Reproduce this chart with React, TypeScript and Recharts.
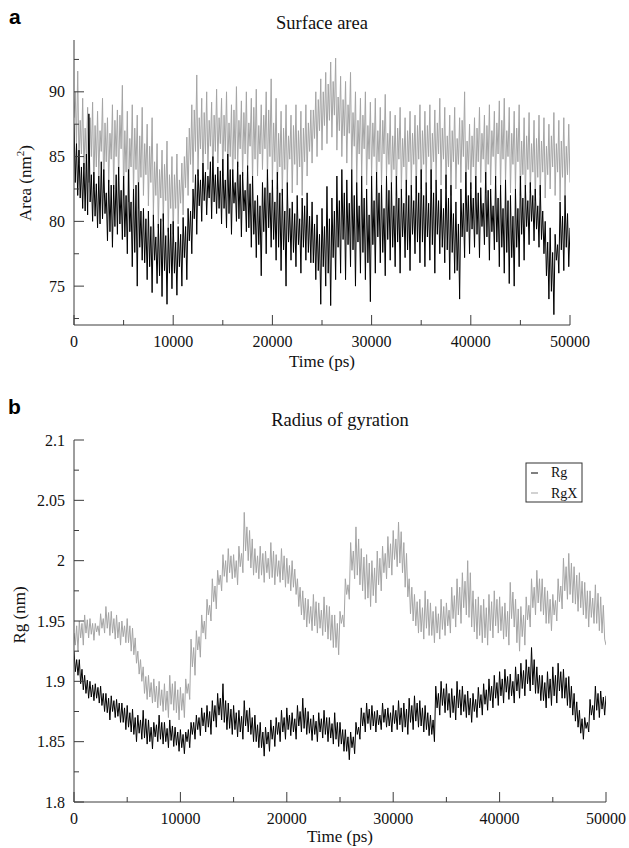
import React from "react";
import { LineChart, Line, XAxis, YAxis } from "recharts";

// time grid, one frame every 125 ps
const STEP = 125;
const TIME = Array.from({ length: 401 }, (_, i) => i * STEP);

const X_TICKS = [0, 5000, 10000, 15000, 20000, 25000, 30000, 35000, 40000, 45000, 50000];
const AREA_TICKS = [72.5, 75, 77.5, 80, 82.5, 85, 87.5, 90, 92.5];
const RG_TICKS = [1.8, 1.825, 1.85, 1.875, 1.9, 1.925, 1.95, 1.975, 2, 2.025, 2.05, 2.075, 2.1];

// surface area (nm^2), black trace — one row per 5000 ps
const AREA_BLACK = [
  87.5, 83.0, 86.0, 82.0, 85.5, 81.8, 84.2, 81.0, 84.5, 80.8, 85.2, 80.5, 88.3, 81.5, 83.6, 80.0, 83.8, 80.4, 82.9, 79.5, 83.5, 79.8, 84.6, 80.2, 84.0, 80.6, 82.2, 78.5, 83.2, 79.2, 82.8, 78.0, 82.8, 79.6, 83.6, 79.0, 84.2, 79.8, 82.4, 78.6,
  83.5, 78.8, 82.0, 77.5, 84.0, 79.2, 81.5, 76.5, 82.5, 77.6, 82.8, 75.0, 83.0, 78.0, 80.8, 77.0, 81.0, 76.8, 80.2, 75.5, 80.8, 76.5, 79.6, 74.5, 80.5, 77.0, 78.8, 75.2, 79.8, 75.8, 80.2, 74.2, 80.6, 76.2, 78.9, 73.6, 79.5, 76.0, 79.8, 74.8,
  80.0, 76.0, 78.4, 74.3, 79.6, 76.5, 79.0, 75.0, 80.3, 77.2, 79.6, 75.5, 81.0, 78.5, 80.8, 77.5, 82.5, 80.2, 83.6, 79.0, 84.0, 81.2, 83.2, 80.0, 84.5, 81.6, 83.8, 80.5, 83.5, 81.8, 84.6, 80.2, 85.0, 81.5, 83.6, 80.6, 84.2, 81.0, 83.9, 79.8,
  84.8, 81.0, 83.2, 79.5, 85.2, 80.6, 84.0, 79.0, 84.0, 81.4, 83.0, 80.0, 84.6, 80.2, 83.6, 78.8, 83.8, 80.8, 82.4, 79.2, 84.3, 79.5, 82.9, 78.0, 83.5, 79.0, 81.6, 77.2, 82.0, 78.2, 81.2, 75.8, 83.0, 79.2, 82.6, 77.5, 84.0, 79.5, 82.2, 78.0,
  83.2, 78.6, 81.5, 77.0, 83.8, 78.0, 82.2, 76.2, 82.5, 77.8, 80.8, 75.0, 83.0, 78.4, 81.0, 77.0, 81.5, 77.6, 80.6, 76.5, 82.0, 78.2, 80.2, 76.0, 81.8, 78.0, 81.2, 77.0, 82.2, 77.6, 80.4, 76.8, 81.5, 76.8, 79.8, 75.5, 80.5, 76.2, 79.0, 73.6,
  81.0, 76.5, 79.6, 75.0, 82.7, 76.0, 80.2, 73.5, 81.8, 77.2, 80.8, 75.5, 83.5, 78.0, 81.6, 76.0, 84.0, 78.6, 82.2, 75.5, 83.2, 78.2, 81.4, 76.5, 84.0, 77.8, 82.0, 75.0, 83.0, 78.4, 81.2, 76.0, 83.5, 77.6, 81.8, 75.5, 82.5, 76.8, 80.5, 73.8,
  83.5, 78.2, 81.6, 76.0, 83.8, 78.8, 82.2, 76.8, 82.8, 77.6, 81.0, 75.8, 83.5, 78.6, 82.4, 77.0, 83.0, 78.0, 81.2, 76.5, 83.5, 78.4, 81.8, 76.0, 82.5, 78.8, 81.4, 77.2, 83.2, 77.8, 82.0, 76.2, 82.8, 79.0, 81.6, 77.5, 83.5, 78.4, 82.2, 76.8,
  84.0, 78.4, 82.0, 76.5, 83.0, 78.8, 81.4, 77.0, 84.0, 78.2, 82.2, 76.0, 83.2, 79.0, 81.6, 77.5, 82.5, 78.0, 81.0, 76.8, 83.6, 77.8, 81.8, 75.5, 82.8, 77.6, 80.6, 76.0, 81.5, 76.2, 79.8, 74.0, 82.5, 78.8, 81.4, 77.2, 83.8, 79.2, 82.0, 77.5,
  83.0, 79.4, 81.8, 78.0, 83.5, 79.0, 82.2, 77.2, 82.6, 79.6, 81.4, 78.2, 83.8, 78.8, 82.4, 77.0, 82.5, 79.2, 81.2, 77.8, 83.5, 78.4, 81.8, 76.5, 82.8, 78.0, 81.0, 76.0, 83.2, 77.6, 81.6, 75.2, 82.0, 77.2, 80.4, 75.0, 82.5, 78.0, 81.0, 76.5,
  83.5, 79.0, 81.8, 77.0, 82.8, 79.6, 81.6, 78.2, 83.0, 80.0, 82.0, 78.5, 82.5, 79.4, 81.2, 78.0, 82.8, 78.6, 80.8, 77.5, 80.0, 75.8, 78.4, 74.0, 79.5, 74.6, 77.6, 72.8, 79.0, 77.0, 78.2, 76.0, 81.5, 77.8, 80.4, 76.2, 82.0, 78.0, 80.6, 76.5,
  79.5,
];

// surface area (nm^2), grey trace
const AREA_GRAY = [
  88.0, 90.0, 86.0, 91.6, 84.5, 87.8, 85.2, 89.5, 84.0, 87.2, 84.8, 88.8, 83.0, 88.0, 85.0, 89.2, 82.5, 87.4, 84.2, 88.5, 83.5, 87.0, 85.4, 89.5, 82.2, 87.6, 84.6, 88.0, 83.0, 86.8, 84.8, 89.0, 82.5, 87.8, 85.0, 88.6, 83.2, 88.2, 85.6, 90.5,
  82.0, 87.0, 83.8, 88.5, 81.5, 86.4, 84.2, 89.0, 82.3, 87.2, 84.0, 88.2, 81.0, 86.6, 83.4, 88.8, 82.0, 86.0, 83.6, 87.5, 81.2, 85.8, 83.0, 88.0, 80.5, 84.6, 82.0, 86.0, 79.5, 84.0, 81.8, 85.5, 80.0, 84.4, 81.6, 86.2, 79.2, 83.6, 81.0, 85.0,
  79.0, 83.6, 81.0, 85.2, 79.8, 83.2, 81.4, 84.5, 80.5, 85.0, 82.6, 86.5, 82.0, 87.2, 84.4, 89.0, 83.0, 88.6, 85.4, 91.3, 83.5, 88.0, 85.6, 89.5, 83.0, 88.4, 85.2, 90.0, 84.0, 87.8, 85.8, 89.2, 83.2, 88.2, 85.4, 90.2, 84.5, 88.0, 86.0, 89.5,
  83.5, 88.2, 85.4, 90.0, 84.0, 87.6, 85.0, 89.0, 83.0, 88.6, 84.8, 90.4, 84.2, 87.8, 85.6, 89.3, 83.5, 88.4, 85.2, 90.0, 84.0, 87.6, 85.8, 89.5, 83.0, 88.8, 84.8, 90.2, 83.5, 87.4, 85.2, 89.0, 84.0, 88.2, 85.6, 90.0, 83.2, 88.6, 85.0, 91.0,
  83.0, 87.6, 84.6, 89.5, 82.5, 86.8, 84.2, 88.5, 82.0, 87.2, 84.0, 89.0, 83.0, 86.6, 84.8, 88.2, 82.2, 87.4, 84.4, 89.0, 82.8, 87.0, 84.2, 88.5, 82.0, 87.2, 84.6, 89.0, 83.5, 87.6, 85.4, 88.6, 84.5, 88.6, 86.4, 90.0, 85.0, 89.4, 87.0, 91.0,
  85.5, 90.0, 87.4, 91.5, 86.0, 90.6, 87.8, 92.3, 86.5, 90.8, 88.2, 92.6, 85.5, 89.6, 87.0, 91.2, 85.0, 89.4, 86.6, 90.8, 84.5, 89.0, 86.8, 91.5, 84.0, 88.4, 85.8, 90.0, 83.0, 87.8, 85.2, 89.5, 83.5, 88.2, 85.6, 90.0, 82.8, 87.4, 84.8, 89.2,
  83.5, 87.6, 85.0, 89.5, 83.0, 87.0, 84.6, 88.8, 82.7, 87.8, 85.2, 89.8, 83.5, 86.8, 84.4, 88.5, 82.5, 86.6, 84.0, 88.2, 82.0, 87.2, 84.8, 88.8, 82.5, 86.4, 84.2, 88.0, 82.0, 87.0, 84.6, 88.5, 82.8, 86.8, 84.4, 88.2, 82.2, 87.4, 84.8, 89.0,
  82.5, 87.0, 84.4, 88.5, 83.0, 87.4, 85.0, 89.0, 82.5, 86.8, 84.6, 88.6, 83.2, 87.6, 85.2, 89.5, 82.8, 87.2, 84.8, 88.8, 82.5, 86.6, 84.2, 88.2, 82.0, 87.0, 84.6, 88.8, 82.5, 86.4, 84.4, 88.0, 83.0, 87.8, 85.0, 90.0, 82.0, 86.2, 84.0, 87.5,
  82.5, 86.6, 84.2, 88.0, 82.0, 87.2, 84.6, 88.8, 83.0, 86.8, 84.8, 88.2, 82.2, 87.4, 84.4, 89.0, 82.8, 87.0, 85.0, 88.5, 83.0, 87.6, 85.2, 89.3, 82.5, 87.8, 84.8, 89.5, 83.0, 87.0, 85.0, 88.8, 82.2, 86.8, 84.4, 88.5, 82.5, 87.2, 84.6, 89.0,
  82.0, 86.2, 83.6, 88.0, 81.8, 86.6, 84.0, 88.4, 82.2, 86.0, 83.8, 87.8, 81.6, 86.4, 83.4, 88.2, 82.0, 86.2, 83.8, 88.0, 81.8, 85.8, 83.6, 87.5, 82.5, 86.6, 84.2, 88.4, 82.0, 86.0, 83.8, 87.8, 81.6, 86.2, 83.4, 88.0, 82.0, 85.8, 83.6, 87.5,
  83.0,
];

// radius of gyration (nm), Rg
const RG = [
  1.925, 1.908, 1.918, 1.905, 1.918, 1.898, 1.910, 1.893, 1.905, 1.890, 1.901, 1.886, 1.900, 1.887, 1.897, 1.884, 1.898, 1.886, 1.895, 1.882, 1.896, 1.880, 1.890, 1.875, 1.890, 1.874, 1.886, 1.868, 1.888, 1.875, 1.884, 1.870, 1.885, 1.871, 1.882, 1.866, 1.882, 1.866, 1.878, 1.860,
  1.880, 1.862, 1.874, 1.858, 1.877, 1.856, 1.870, 1.850, 1.872, 1.857, 1.868, 1.852, 1.876, 1.853, 1.869, 1.848, 1.868, 1.850, 1.862, 1.844, 1.866, 1.854, 1.864, 1.850, 1.872, 1.852, 1.866, 1.848, 1.866, 1.850, 1.861, 1.845, 1.868, 1.851, 1.863, 1.846, 1.862, 1.847, 1.858, 1.842,
  1.860, 1.845, 1.856, 1.840, 1.858, 1.850, 1.860, 1.845, 1.866, 1.856, 1.866, 1.852, 1.872, 1.860, 1.870, 1.855, 1.878, 1.863, 1.874, 1.858, 1.880, 1.862, 1.875, 1.856, 1.884, 1.867, 1.880, 1.862, 1.890, 1.872, 1.886, 1.868, 1.898, 1.866, 1.884, 1.860, 1.882, 1.861, 1.877, 1.856,
  1.880, 1.860, 1.874, 1.854, 1.876, 1.858, 1.871, 1.852, 1.884, 1.863, 1.876, 1.858, 1.878, 1.856, 1.870, 1.850, 1.872, 1.850, 1.864, 1.845, 1.866, 1.845, 1.858, 1.838, 1.862, 1.848, 1.858, 1.842, 1.868, 1.852, 1.863, 1.846, 1.870, 1.856, 1.866, 1.850, 1.876, 1.858, 1.870, 1.852,
  1.878, 1.860, 1.872, 1.855, 1.874, 1.858, 1.869, 1.852, 1.880, 1.863, 1.875, 1.858, 1.886, 1.861, 1.878, 1.856, 1.875, 1.857, 1.869, 1.851, 1.872, 1.856, 1.867, 1.850, 1.874, 1.858, 1.869, 1.853, 1.876, 1.856, 1.870, 1.850, 1.870, 1.853, 1.865, 1.848, 1.874, 1.852, 1.866, 1.846,
  1.866, 1.848, 1.860, 1.842, 1.860, 1.842, 1.854, 1.835, 1.858, 1.845, 1.854, 1.840, 1.866, 1.856, 1.862, 1.852, 1.878, 1.863, 1.874, 1.858, 1.882, 1.865, 1.877, 1.860, 1.880, 1.863, 1.875, 1.858, 1.876, 1.864, 1.872, 1.860, 1.882, 1.866, 1.877, 1.862, 1.878, 1.863, 1.874, 1.858,
  1.880, 1.865, 1.876, 1.860, 1.884, 1.864, 1.878, 1.858, 1.882, 1.862, 1.877, 1.856, 1.886, 1.866, 1.880, 1.860, 1.888, 1.867, 1.882, 1.862, 1.884, 1.863, 1.878, 1.858, 1.880, 1.860, 1.874, 1.855, 1.872, 1.856, 1.868, 1.850, 1.896, 1.878, 1.890, 1.872, 1.900, 1.880, 1.894, 1.874,
  1.898, 1.876, 1.890, 1.870, 1.894, 1.874, 1.888, 1.868, 1.900, 1.878, 1.893, 1.872, 1.896, 1.875, 1.889, 1.870, 1.892, 1.872, 1.886, 1.866, 1.890, 1.875, 1.885, 1.870, 1.895, 1.878, 1.889, 1.872, 1.898, 1.881, 1.893, 1.876, 1.902, 1.884, 1.896, 1.878, 1.905, 1.886, 1.899, 1.880,
  1.908, 1.888, 1.902, 1.882, 1.910, 1.891, 1.904, 1.885, 1.906, 1.888, 1.900, 1.882, 1.912, 1.892, 1.906, 1.886, 1.915, 1.894, 1.909, 1.888, 1.918, 1.898, 1.912, 1.892, 1.928, 1.897, 1.918, 1.890, 1.912, 1.890, 1.905, 1.884, 1.905, 1.884, 1.899, 1.878, 1.908, 1.886, 1.902, 1.880,
  1.912, 1.888, 1.905, 1.882, 1.915, 1.892, 1.908, 1.886, 1.910, 1.886, 1.903, 1.880, 1.904, 1.878, 1.896, 1.872, 1.890, 1.867, 1.883, 1.862, 1.876, 1.857, 1.869, 1.852, 1.870, 1.861, 1.866, 1.858, 1.885, 1.872, 1.880, 1.868, 1.896, 1.876, 1.890, 1.870, 1.892, 1.877, 1.887, 1.872,
  1.888,
];

// radius of gyration (nm), RgX
const RGX = [
  1.940, 1.930, 1.946, 1.925, 1.950, 1.936, 1.948, 1.930, 1.955, 1.940, 1.951, 1.936, 1.952, 1.939, 1.948, 1.934, 1.948, 1.941, 1.946, 1.938, 1.956, 1.944, 1.952, 1.940, 1.962, 1.944, 1.957, 1.938, 1.958, 1.940, 1.952, 1.935, 1.955, 1.936, 1.949, 1.930, 1.950, 1.937, 1.946, 1.932,
  1.952, 1.932, 1.946, 1.925, 1.944, 1.922, 1.936, 1.915, 1.925, 1.906, 1.918, 1.900, 1.912, 1.890, 1.904, 1.885, 1.905, 1.887, 1.899, 1.882, 1.902, 1.883, 1.896, 1.878, 1.900, 1.880, 1.893, 1.875, 1.898, 1.876, 1.892, 1.870, 1.905, 1.881, 1.898, 1.876, 1.900, 1.874, 1.893, 1.868,
  1.895, 1.876, 1.890, 1.870, 1.902, 1.890, 1.898, 1.885, 1.935, 1.912, 1.928, 1.905, 1.942, 1.926, 1.937, 1.920, 1.955, 1.940, 1.950, 1.935, 1.968, 1.955, 1.963, 1.950, 1.985, 1.966, 1.979, 1.960, 1.992, 1.980, 1.988, 1.975, 2.005, 1.987, 2.000, 1.982, 2.010, 1.990, 2.004, 1.985,
  2.005, 1.986, 2.000, 1.980, 2.012, 1.995, 2.006, 1.990, 2.040, 2.008, 2.028, 2.000, 2.025, 1.994, 2.018, 1.988, 2.010, 1.990, 2.004, 1.985, 2.012, 1.988, 2.006, 1.982, 2.008, 1.990, 2.002, 1.985, 2.015, 1.986, 2.008, 1.980, 2.005, 1.987, 2.000, 1.982, 2.010, 1.984, 2.004, 1.978,
  2.002, 1.981, 1.996, 1.975, 2.000, 1.978, 1.993, 1.972, 1.985, 1.962, 1.978, 1.955, 1.975, 1.951, 1.969, 1.945, 1.968, 1.948, 1.962, 1.942, 1.972, 1.946, 1.966, 1.940, 1.965, 1.944, 1.959, 1.938, 1.970, 1.941, 1.963, 1.935, 1.962, 1.934, 1.955, 1.928, 1.955, 1.928, 1.948, 1.922,
  1.958, 1.948, 1.955, 1.945, 1.985, 1.972, 1.980, 1.968, 2.015, 1.992, 2.008, 1.985, 2.028, 1.988, 2.018, 1.980, 2.010, 1.975, 2.003, 1.968, 2.005, 1.969, 1.998, 1.962, 2.000, 1.971, 1.994, 1.965, 2.008, 1.980, 2.002, 1.975, 2.012, 1.990, 2.006, 1.985, 2.020, 1.994, 2.014, 1.988,
  2.025, 2.001, 2.018, 1.995, 2.032, 1.998, 2.024, 1.990, 2.015, 1.978, 2.006, 1.970, 1.985, 1.956, 1.978, 1.950, 1.972, 1.946, 1.966, 1.940, 1.968, 1.941, 1.961, 1.935, 1.975, 1.944, 1.968, 1.938, 1.965, 1.938, 1.958, 1.932, 1.962, 1.940, 1.956, 1.935, 1.968, 1.943, 1.962, 1.938,
  1.965, 1.946, 1.959, 1.940, 1.978, 1.952, 1.971, 1.945, 1.985, 1.955, 1.978, 1.948, 1.990, 1.961, 1.983, 1.955, 2.000, 1.953, 1.990, 1.945, 1.975, 1.941, 1.968, 1.935, 1.970, 1.938, 1.963, 1.932, 1.968, 1.936, 1.961, 1.930, 1.972, 1.942, 1.966, 1.936, 1.975, 1.946, 1.968, 1.940,
  1.970, 1.942, 1.962, 1.935, 1.965, 1.937, 1.958, 1.930, 1.982, 1.952, 1.974, 1.945, 1.968, 1.932, 1.960, 1.925, 1.962, 1.937, 1.955, 1.930, 1.970, 1.951, 1.963, 1.945, 1.985, 1.961, 1.978, 1.955, 1.992, 1.965, 1.985, 1.958, 1.985, 1.955, 1.978, 1.948, 1.975, 1.948, 1.968, 1.942,
  1.972, 1.955, 1.967, 1.950, 1.985, 1.966, 1.979, 1.960, 2.002, 1.975, 1.995, 1.968, 2.006, 1.972, 1.998, 1.965, 1.995, 1.964, 1.988, 1.958, 1.990, 1.961, 1.983, 1.955, 1.982, 1.952, 1.975, 1.945, 1.975, 1.953, 1.969, 1.948, 1.980, 1.948, 1.973, 1.942, 1.970, 1.940, 1.963, 1.935,
  1.930,
];

const areaData = TIME.map((t, i) => ({ t, black: AREA_BLACK[i], gray: AREA_GRAY[i] }));
const rgData = TIME.map((t, i) => ({ t, rg: RG[i], rgx: RGX[i] }));

const AXIS = "#3c3c3c";
const GRAY = "#a5a5a5";
const SERIF = '"Liberation Serif", "Times New Roman", serif';
const SANS = '"Liberation Sans", Arial, sans-serif';

const isMajorX = (v: number) => v % 10000 === 0;

const bottomTick = (props: any) => {
  const { x, y, payload } = props;
  const major = isMajorX(payload.value);
  return (
    <g>
      <line x1={x} y1={y} x2={x} y2={y - (major ? 10 : 5)} stroke={AXIS} />
      {major && (
        <text x={x} y={y + 22} textAnchor="middle" fontFamily={SERIF} fontSize={16} fill="#111">
          {payload.value}
        </text>
      )}
    </g>
  );
};

const topTick = (props: any) => {
  const { x, y, payload } = props;
  const major = isMajorX(payload.value);
  return <line x1={x} y1={y} x2={x} y2={y + (major ? 10 : 5)} stroke={AXIS} />;
};

const makeLeftTick = (isMajor: (v: number) => boolean) => (props: any) => {
  const { x, y, payload } = props;
  const major = isMajor(payload.value);
  return (
    <g>
      <line x1={x} y1={y} x2={x + (major ? 10 : 5)} y2={y} stroke={AXIS} />
      {major && (
        <text x={x - 9} y={y + 5.5} textAnchor="end" fontFamily={SERIF} fontSize={16} fill="#111">
          {String(payload.value)}
        </text>
      )}
    </g>
  );
};

const makeRightTick = (isMajor: (v: number) => boolean) => (props: any) => {
  const { x, y, payload } = props;
  const major = isMajor(payload.value);
  return <line x1={x} y1={y} x2={x - (major ? 10 : 5)} y2={y} stroke={AXIS} />;
};

const areaMajor = (v: number) => v % 5 === 0;
const rgMajor = (v: number) => Math.round(v * 1000) % 50 === 0;

export default function App() {
  return (
    <div style={{ position: "absolute", left: 0, top: 0, width: 629, height: 848, background: "#fff" }}>
      <div style={{ position: "absolute", left: 0, top: 0 }}>
        <LineChart width={629} height={370} data={areaData} margin={{ top: 40, right: 59, bottom: 15, left: 34 }}>
          <XAxis
            dataKey="t"
            type="number"
            domain={[0, 50000]}
            ticks={X_TICKS}
            interval={0}
            allowDataOverflow
            height={30}
            tickSize={0}
            tickMargin={0}
            tick={bottomTick}
            stroke={AXIS}
          />
          <XAxis
            xAxisId="top"
            orientation="top"
            dataKey="t"
            type="number"
            domain={[0, 50000]}
            ticks={X_TICKS}
            interval={0}
            allowDataOverflow
            height={0}
            tickSize={0}
            tickMargin={0}
            tick={topTick}
            stroke={AXIS}
          />
          <YAxis
            type="number"
            domain={[72, 94]}
            ticks={AREA_TICKS}
            interval={0}
            allowDataOverflow
            width={40}
            tickSize={0}
            tickMargin={0}
            tick={makeLeftTick(areaMajor)}
            stroke={AXIS}
          />
          <YAxis
            yAxisId="right"
            orientation="right"
            type="number"
            domain={[72, 94]}
            ticks={AREA_TICKS}
            interval={0}
            allowDataOverflow
            width={0}
            tickSize={0}
            tickMargin={0}
            tick={makeRightTick(areaMajor)}
            stroke={AXIS}
          />
          <Line type="linear" dataKey="gray" stroke={GRAY} strokeWidth={1} dot={false} isAnimationActive={false} />
          <Line type="linear" dataKey="black" stroke="#000" strokeWidth={1} dot={false} isAnimationActive={false} />
        </LineChart>
      </div>

      <div style={{ position: "absolute", left: 0, top: 400 }}>
        <LineChart width={629} height={447} data={rgData} margin={{ top: 40, right: 23, bottom: 15, left: 34 }}>
          <XAxis
            dataKey="t"
            type="number"
            domain={[0, 50000]}
            ticks={X_TICKS}
            interval={0}
            allowDataOverflow
            height={30}
            tickSize={0}
            tickMargin={0}
            tick={bottomTick}
            stroke={AXIS}
          />
          <XAxis
            xAxisId="top"
            orientation="top"
            dataKey="t"
            type="number"
            domain={[0, 50000]}
            ticks={X_TICKS}
            interval={0}
            allowDataOverflow
            height={0}
            tickSize={0}
            tickMargin={0}
            tick={topTick}
            stroke={AXIS}
          />
          <YAxis
            type="number"
            domain={[1.8, 2.1]}
            ticks={RG_TICKS}
            interval={0}
            allowDataOverflow
            width={40}
            tickSize={0}
            tickMargin={0}
            tick={makeLeftTick(rgMajor)}
            stroke={AXIS}
          />
          <YAxis
            yAxisId="right"
            orientation="right"
            type="number"
            domain={[1.8, 2.1]}
            ticks={RG_TICKS}
            interval={0}
            allowDataOverflow
            width={0}
            tickSize={0}
            tickMargin={0}
            tick={makeRightTick(rgMajor)}
            stroke={AXIS}
          />
          <Line type="linear" dataKey="rgx" stroke={GRAY} strokeWidth={1} dot={false} isAnimationActive={false} />
          <Line type="linear" dataKey="rg" stroke="#000" strokeWidth={1} dot={false} isAnimationActive={false} />
        </LineChart>
      </div>

      {/* titles, axis labels, panel letters and legend */}
      <svg width={629} height={848} style={{ position: "absolute", left: 0, top: 0, pointerEvents: "none" }}>
        <text x={9} y={24} fontFamily={SANS} fontWeight="bold" fontSize={21} fill="#000">a</text>
        <text x={8} y={414} fontFamily={SANS} fontWeight="bold" fontSize={21} fill="#000">b</text>

        <text x={322} y={29} textAnchor="middle" fontFamily={SERIF} fontSize={18.5} fill="#111">Surface area</text>
        <text x={340} y={426} textAnchor="middle" fontFamily={SERIF} fontSize={18.5} fill="#111">Radius of gyration</text>

        <text x={322} y={367} textAnchor="middle" fontFamily={SERIF} fontSize={17} fill="#111">Time (ps)</text>
        <text x={340} y={842} textAnchor="middle" fontFamily={SERIF} fontSize={17} fill="#111">Time (ps)</text>

        <text
          x={31}
          y={183}
          transform="rotate(-90 31 183)"
          textAnchor="middle"
          fontFamily={SERIF}
          fontSize={17}
          fill="#111"
        >
          Area (nm<tspan dy={-7} fontSize={11}>2</tspan>
          <tspan dy={7}>)</tspan>
        </text>
        <text
          x={25}
          y={615}
          transform="rotate(-90 25 615)"
          textAnchor="middle"
          fontFamily={SERIF}
          fontSize={17}
          fill="#111"
        >
          Rg (nm)
        </text>

        <rect x={526} y={463} width={56} height={39} fill="#fff" stroke="#333" strokeWidth={1} />
        <line x1={531} y1={473} x2={538} y2={473} stroke="#000" strokeWidth={1} />
        <text x={551} y={477} fontFamily={SERIF} fontSize={14} fill="#111">Rg</text>
        <line x1={531} y1={493} x2={538} y2={493} stroke={GRAY} strokeWidth={1} />
        <text x={551} y={498} fontFamily={SERIF} fontSize={14} fill="#111">RgX</text>
      </svg>
    </div>
  );
}
